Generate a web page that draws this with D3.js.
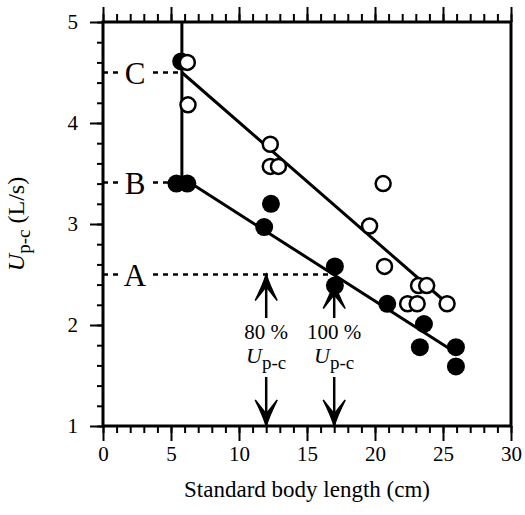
<!DOCTYPE html>
<html>
<head>
<meta charset="utf-8">
<script src="https://cdn.jsdelivr.net/npm/d3@7"></script>
<style>
  body { margin: 0; background: #fff; }
  svg text { font-family: "Liberation Serif", "Times New Roman", serif !important; fill: #000; }
</style>
</head>
<body>
<script>
// open circles (upper series)
const openX = [6.2, 6.25, 12.3, 12.3, 12.9, 19.6, 20.6, 20.7, 23.2, 23.8, 22.4, 23.1, 25.3];
const openY = [4.6, 4.18, 3.79, 3.57, 3.57, 2.98, 3.4, 2.58, 2.39, 2.39, 2.21, 2.21, 2.21];
// filled circles (lower series)
const fillX = [5.75, 5.4, 6.2, 12.35, 11.85, 17.05, 17.05, 20.9, 23.6, 23.3, 25.95, 25.95];
const fillY = [4.61, 3.4, 3.4, 3.2, 2.97, 2.58, 2.39, 2.21, 2.01, 1.78, 1.78, 1.59];
// fitted lines
const lineC = [[5.8, 4.5], [25.0, 2.25]];
const lineB = [[5.8, 3.46], [26.0, 1.72]];
const vertLine = [[5.8, 5], [5.8, 3.41]];
// reference levels
const levels = [
  { label: "C", y: 4.5, xEnd: 5.8 },
  { label: "B", y: 3.41, xEnd: 5.4 },
  { label: "A", y: 2.5, xEnd: 17.0 },
];
const arrows = [
  { x: 12, tip: 2.5, pct: "80 %" },
  { x: 17, tip: 2.42, pct: "100 %" },
];
const xTicks = [0, 5, 10, 15, 20, 25, 30];
const yTicks = [1, 2, 3, 4, 5];

const width = 525, height = 515;
const margin = { top: 22, right: 14, bottom: 89, left: 103 };

const svg = d3.select("body").append("svg")
  .attr("width", width).attr("height", height);

const x = d3.scaleLinear().domain([0, 30]).range([margin.left, width - margin.right]);
const y = d3.scaleLinear().domain([1, 5]).range([height - margin.bottom, margin.top]);

function styleAxis(g) {
  g.select(".domain").remove();
  g.selectAll("line").attr("stroke", "#000").attr("stroke-width", 2);
}

// bottom axis
svg.append("g").attr("transform", `translate(0,${y(1)})`)
  .call(d3.axisBottom(x).tickValues(d3.range(0, 31)).tickSize(7).tickFormat(""))
  .call(styleAxis);
svg.append("g").attr("transform", `translate(0,${y(1)})`)
  .call(d3.axisBottom(x).tickValues(xTicks).tickSize(15).tickPadding(5).tickFormat(d3.format("d")))
  .call(styleAxis)
  .call(g => g.selectAll("text").attr("font-size", 21));

// top axis
svg.append("g").attr("transform", `translate(0,${y(5)})`)
  .call(d3.axisTop(x).tickValues(d3.range(0, 31)).tickSize(8).tickFormat(""))
  .call(styleAxis);
svg.append("g").attr("transform", `translate(0,${y(5)})`)
  .call(d3.axisTop(x).tickValues(xTicks).tickSize(15).tickFormat(""))
  .call(styleAxis);

// left axis
svg.append("g").attr("transform", `translate(${x(0)},0)`)
  .call(d3.axisLeft(y).tickValues(d3.range(1, 5.01, 0.2)).tickSize(6).tickFormat(""))
  .call(styleAxis);
svg.append("g").attr("transform", `translate(${x(0)},0)`)
  .call(d3.axisLeft(y).tickValues(yTicks).tickSize(13).tickPadding(12).tickFormat(d3.format("d")))
  .call(styleAxis)
  .call(g => g.selectAll("text").attr("font-size", 21));

// frame
svg.append("rect")
  .attr("x", x(0)).attr("y", y(5))
  .attr("width", x(30) - x(0)).attr("height", y(1) - y(5))
  .attr("fill", "none").attr("stroke", "#000").attr("stroke-width", 3);

const line = d3.line().x(d => x(d[0])).y(d => y(d[1]));

// dashed reference levels with labels
levels.forEach(l => {
  svg.append("path")
    .attr("d", line([[0, l.y], [l.xEnd, l.y]]))
    .attr("stroke", "#000").attr("stroke-width", 2.5)
    .attr("stroke-dasharray", "5,5").attr("fill", "none");
  svg.append("rect")
    .attr("x", x(0) + 17).attr("y", y(l.y) - 14)
    .attr("width", 30).attr("height", 28).attr("fill", "#fff");
  svg.append("text")
    .attr("x", x(0) + 32).attr("y", y(l.y) + 11)
    .attr("text-anchor", "middle").attr("font-size", 31)
    .text(l.label);
});

// fitted lines
[lineC, lineB, vertLine].forEach(seg => {
  svg.append("path").attr("d", line(seg))
    .attr("stroke", "#000").attr("stroke-width", 3).attr("fill", "none");
});

// arrows and labels
function arrowHead(px, py, dir) {
  // dir = -1 pointing up, +1 pointing down
  const len = 26, half = 11;
  return `M${px - half},${py - dir * len}Q${px - 3},${py - dir * 10} ${px},${py}` +
    `Q${px + 3},${py - dir * 10} ${px + half},${py - dir * len}` +
    `L${px},${py - dir * 12}Z`;
}
arrows.forEach(a => {
  const px = x(a.x);
  svg.append("line")
    .attr("x1", px).attr("x2", px)
    .attr("y1", y(a.tip)).attr("y2", 318)
    .attr("stroke", "#000").attr("stroke-width", 2.5);
  svg.append("path").attr("d", arrowHead(px, y(a.tip), -1))
    .attr("stroke", "#000").attr("stroke-width", 1.5).attr("fill", "#000");
  svg.append("line")
    .attr("x1", px).attr("x2", px)
    .attr("y1", 377).attr("y2", y(1))
    .attr("stroke", "#000").attr("stroke-width", 2.5);
  svg.append("path").attr("d", arrowHead(px, y(1), 1))
    .attr("stroke", "#000").attr("stroke-width", 1.5).attr("fill", "#000");
  svg.append("text").attr("x", px).attr("y", 339)
    .attr("text-anchor", "middle").attr("font-size", 21).text(a.pct);
  const t = svg.append("text").attr("x", px).attr("y", 363)
    .attr("text-anchor", "middle").attr("font-size", 22);
  t.append("tspan").attr("font-style", "italic").text("U");
  t.append("tspan").attr("dy", 6).attr("font-size", 19).text("p-c");
});

// filled circles
svg.append("g").selectAll("circle")
  .data(d3.zip(fillX, fillY)).join("circle")
  .attr("cx", d => x(d[0])).attr("cy", d => y(d[1]))
  .attr("r", 9).attr("fill", "#000");

// open circles
svg.append("g").selectAll("circle")
  .data(d3.zip(openX, openY)).join("circle")
  .attr("cx", d => x(d[0])).attr("cy", d => y(d[1]))
  .attr("r", 7.5).attr("fill", "#fff").attr("stroke", "#000").attr("stroke-width", 2.5);

// axis titles
svg.append("text")
  .attr("x", (x(0) + x(30)) / 2).attr("y", 497)
  .attr("text-anchor", "middle").attr("font-size", 23)
  .text("Standard body length (cm)");

const yl = svg.append("text")
  .attr("transform", `translate(24,${(y(1) + y(5)) / 2}) rotate(-90)`)
  .attr("text-anchor", "middle").attr("font-size", 24);
yl.append("tspan").attr("font-style", "italic").text("U");
yl.append("tspan").attr("dy", 6).attr("font-size", 19).text("p-c");
yl.append("tspan").attr("dy", -6).text(" (L/s)");
</script>
</body>
</html>
